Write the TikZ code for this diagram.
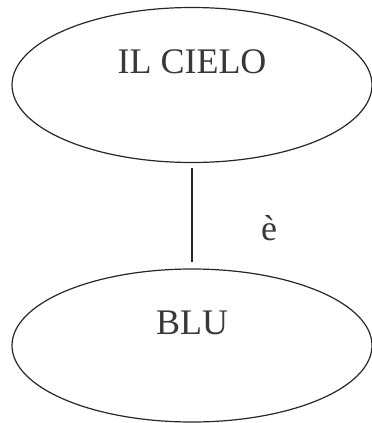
\documentclass[tikz,border=0pt]{standalone}
\usepackage{fontspec}
\setmainfont{Liberation Serif}
\usetikzlibrary{shapes.geometric}
\tikzset{
	bubblestyle/.style={ellipse,draw=black!85,line width=1.2pt,minimum width=360pt,minimum height=155pt,
		text=black!78,font=\fontsize{36}{40}\selectfont,text height=23pt,text depth=46pt},
	wordstyle/.style={text=black!78,font=\fontsize{36}{40}\selectfont}
}
\begin{document}
\begin{tikzpicture}[x=1pt,y=-1pt]
		\useasboundingbox (0,0) rectangle (372,423);
		\node[bubblestyle] (cielo) at (192,85) {IL CIELO};
		\node[bubblestyle,minimum height=153pt] (blu) at (192,345.5) {BLU};
		\node[wordstyle] (e) at (269,228) {è};
		\draw[draw=black!85,line width=1.2pt,shorten <=5pt,shorten >=6pt] (cielo)--(blu);
		\end{tikzpicture}
\end{document}
